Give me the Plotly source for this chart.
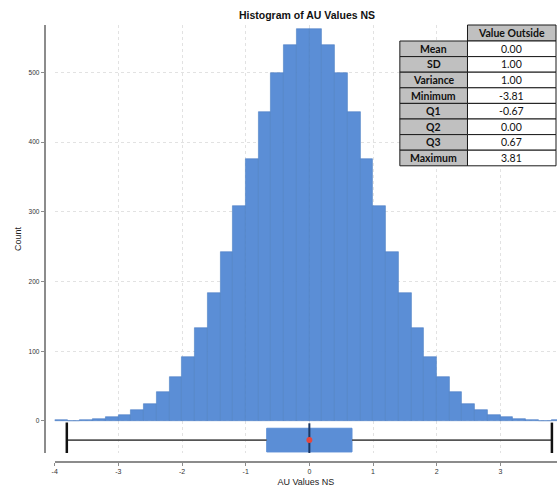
import plotly.graph_objects as go

# ---------------- data ----------------
bin_width = 0.2
bin_left = [round(-4.0 + i * bin_width, 1) for i in range(40)]
counts = [2, 0, 1, 3, 5, 8, 15, 25, 41, 63,
          92, 134, 183, 243, 309, 376, 443, 499, 539, 562,
          562, 539, 499, 443, 376, 309, 243, 183, 134, 92,
          63, 41, 25, 15, 8, 5, 3, 1, 0, 2]

stat_header = "Value Outside"
stat_names = ["Mean", "SD", "Variance", "Minimum", "Q1", "Q2", "Q3", "Maximum"]
stat_values = [0.00, 1.00, 1.00, -3.81, -0.67, 0.00, 0.67, 3.81]
stat_min, stat_q1, stat_q2, stat_q3, stat_max = -3.81, -0.67, 0.00, 0.67, 3.81
stat_mean = 0.00

x_ticks = [-4, -3, -2, -1, 0, 1, 2, 3]
y_ticks = [0, 100, 200, 300, 400, 500]

# ---------------- styling / layout constants ----------------
box_pos = -27.5     # vertical position of the box plot (count units)
box_height = 34

BLUE = "#5b8ed6"
EDGE = "#4d7fc4"
FONT = "Liberation Sans"
TFONT = "Lato"
W, H = 557, 487
ML, MR, MT, MB = 0, 0, 25, 25
PH = H - MT - MB


def px_x(x):
    return (x - ML) / (W - ML - MR)


def px_y(y):
    return (H - MB - y) / PH


bin_centers = [b + bin_width / 2 for b in bin_left]

fig = go.Figure()

fig.add_trace(go.Bar(
    x=bin_centers, y=counts, width=bin_width,
    marker=dict(color=BLUE, line=dict(color=EDGE, width=0.6)),
    showlegend=False, hoverinfo="x+y"))

fig.add_trace(go.Box(
    orientation="h", y=[box_pos],
    q1=[stat_q1], median=[stat_q2], q3=[stat_q3],
    lowerfence=[stat_q1], upperfence=[stat_q3],
    width=box_height, fillcolor=BLUE,
    line=dict(color=BLUE, width=1), whiskerwidth=0,
    showlegend=False, boxpoints=False))

# whiskers
fig.add_trace(go.Scatter(
    x=[stat_min, stat_q1, None, stat_q3, stat_max],
    y=[box_pos, box_pos, None, box_pos, box_pos],
    mode="lines", line=dict(color="#555555", width=1.6),
    showlegend=False, hoverinfo="skip"))
# whisker caps
fig.add_trace(go.Scatter(
    x=[stat_min, stat_max], y=[box_pos, box_pos], mode="markers",
    marker=dict(symbol="line-ns", size=25, line=dict(color="#111111", width=2.5)),
    showlegend=False, hoverinfo="x"))
# median line
fig.add_trace(go.Scatter(
    x=[stat_q2], y=[box_pos], mode="markers",
    marker=dict(symbol="line-ns", size=24, line=dict(color="#1c3763", width=2)),
    showlegend=False, hoverinfo="x"))
# mean dot
fig.add_trace(go.Scatter(
    x=[stat_mean], y=[box_pos], mode="markers",
    marker=dict(symbol="circle", size=6, color="#e8463c"),
    showlegend=False, hoverinfo="x"))

# ---------------- statistics table (shapes + text) ----------------
GRAY = "#c0c0c0"
tab_x0, tab_x1, tab_x2 = 399, 467, 556
tab_top, head_h, row_h = 25, 16, 15.6
shapes, annotations = [], []


def cell(x0, x1, y0, y1, fill, text, bold, size):
    shapes.append(dict(type="rect", xref="paper", yref="paper",
                       x0=px_x(x0), x1=px_x(x1), y0=px_y(y1), y1=px_y(y0),
                       fillcolor=fill, line=dict(color="#1a1a1a", width=1),
                       layer="above"))
    annotations.append(dict(xref="paper", yref="paper",
                            x=px_x((x0 + x1) / 2), y=px_y((y0 + y1) / 2),
                            text=("<b>%s</b>" % text) if bold else text,
                            showarrow=False, xanchor="center", yanchor="middle",
                            font=dict(family=TFONT, size=size, color="#111111")))


cell(tab_x1, tab_x2, tab_top, tab_top + head_h, GRAY, stat_header, True, 10.5)
for i, (name, val) in enumerate(zip(stat_names, stat_values)):
    y0 = tab_top + head_h + i * row_h
    cell(tab_x0, tab_x1, y0, y0 + row_h, GRAY, name, True, 10.5)
    cell(tab_x1, tab_x2, y0, y0 + row_h, "#ffffff", "%.2f" % val, False, 10.5)

fig.update_layout(
    width=W, height=H,
    margin=dict(l=ML, r=MR, t=MT, b=MB),
    paper_bgcolor="white", plot_bgcolor="white",
    font=dict(family=FONT, color="#333333"),
    bargap=0,
    shapes=shapes, annotations=annotations,
    title=dict(text="<b>Histogram of AU Values NS</b>", x=307 / W, xanchor="center",
               y=1 - 15 / H, yanchor="middle",
               font=dict(family=FONT, size=10.5, color="#111111")),
    xaxis=dict(
        domain=[px_x(52), 1.0], range=[-4.0, 3.89],
        anchor="free", position=0,
        tickvals=x_ticks, ticktext=[str(t) for t in x_ticks],
        showline=True, linecolor="#8c8c8c", linewidth=2,
        ticks="outside", ticklen=3, tickcolor="#8c8c8c", tickwidth=1.2,
        tickfont=dict(size=7, color="#333333"),
        showgrid=True, gridcolor="#e2e2e2", griddash="dot", gridwidth=1,
        zeroline=False,
        title=dict(text="AU Values NS", font=dict(size=9, color="#222222"), standoff=3)),
    yaxis=dict(
        domain=[9 / PH, 1.0], range=[-46, 568],
        anchor="free", position=px_x(42),
        tickvals=y_ticks,
        showline=True, linecolor="#8c8c8c", linewidth=2,
        ticks="outside", ticklen=3, tickcolor="#8c8c8c", tickwidth=1.2,
        tickfont=dict(size=6.5, color="#333333"),
        showgrid=True, gridcolor="#e2e2e2", griddash="dot", gridwidth=1,
        zeroline=False,
        title=dict(text="Count", font=dict(size=9, color="#222222"), standoff=4)),
)

fig.write_html("out.html", config={"displayModeBar": False},
               post_script="document.body.style.margin='0';document.body.style.padding='0';")
